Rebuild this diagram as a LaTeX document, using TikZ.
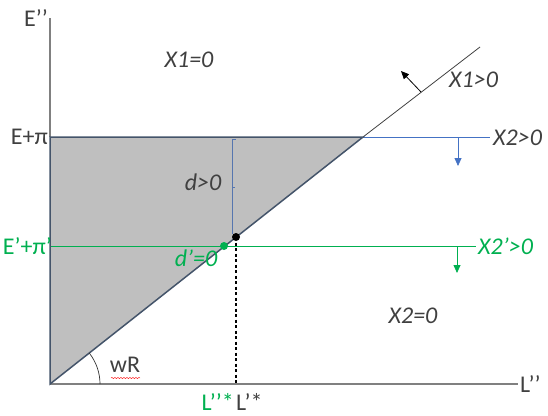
\documentclass[tikz,border=0pt]{standalone}
\usepackage{fontspec}
\setmainfont{Carlito}
\usetikzlibrary{arrows.meta,decorations.pathmorphing}
\definecolor{navy}{HTML}{44546A}
\definecolor{axisgray}{HTML}{808080}
\definecolor{fillgray}{HTML}{BFBFBF}
\definecolor{myblue}{HTML}{4472C4}
\definecolor{mygreen}{HTML}{00B050}
\definecolor{txt}{HTML}{404040}
\tikzset{
  lbl/.style={font=\fontsize{24}{26}\selectfont, text=txt, inner sep=0pt},
  ilbl/.style={lbl, font=\fontsize{24}{26}\selectfont\itshape},
  glbl/.style={lbl, text=mygreen},
  gilbl/.style={ilbl, text=mygreen},
  axisline/.style={axisgray, line width=1.2pt},
  edgeline/.style={navy, line width=1.5pt},
  tip/.style={-{Triangle[width=7pt,length=8pt]}}
}
\begin{document}
\begin{tikzpicture}[x=1pt,y=-1pt]
\useasboundingbox (0,0) rectangle (548,415);
% coordinates
\coordinate (O) at (50,384);
\coordinate (Ytop) at (50,18);
\coordinate (Xend) at (518,384);
\coordinate (E) at (50,137);
\coordinate (A) at (363,137);
\coordinate (Dend) at (480,47);
\coordinate (Bend) at (490,137);
\coordinate (G0) at (50,246);
\coordinate (Gend) at (476,246);
\coordinate (K) at (236,237);
\coordinate (Kb) at (236,384);
\coordinate (Gd) at (224,246);
\coordinate (M1) at (232,139);
\coordinate (M2) at (232,234);
\coordinate (Bt) at (458,137);
\coordinate (Bb) at (458,166);
\coordinate (Gt) at (457,246);
\coordinate (Gb) at (457,273);
\coordinate (N1) at (421,92);
\coordinate (N2) at (401,71);
% fill
\fill[fillgray] (O) -- (E) -- (A) -- cycle;
% axes
\draw[axisline] (Ytop) -- (E);
\draw[axisline] (O) -- (Xend);
% lines
\draw[myblue, line width=0.8pt] (A) -- (Bend);
\draw[black!75, line width=0.8pt] (A) -- (Dend);
\draw[mygreen, line width=1pt] (G0) -- (Gend);
\draw[edgeline] (O) -- (E) -- (A) -- cycle;
% measure line
\draw[myblue!70!gray, line width=0.7pt] (M1) -- (M2);
\draw[myblue!70!gray, line width=0.5pt] (232,187) -- (235,187);
\draw[myblue!70!gray, line width=0.5pt] (232,139) -- (236,139);
% dashed
\draw[black, line width=1.1pt, dash pattern=on 3pt off 2.5pt] (K) -- (Kb);
% arrows
\draw[myblue, line width=0.8pt, tip] (Bt) -- (Bb);
\draw[mygreen, line width=0.8pt, tip] (Gt) -- (Gb);
\draw[black, line width=0.8pt, tip] (N1) -- (N2);
% dots
\fill[black] (K) circle (4pt);
\fill[mygreen] (Gd) circle (4pt);
% angle arc
\draw[black!80, line width=0.7pt] (100,384) arc[start angle=0, end angle=-38.3, radius=50];
% labels
\node[lbl, anchor=east] (lE) at (48,18) {E’’};
\node[lbl, anchor=east] (lEpi) at (48,137) {E+π};
\node[glbl, anchor=east] (lEpi2) at (52,246) {E’+π’};
\node[ilbl] (lX10) at (189,60) {X1=0};
\node[ilbl, anchor=west] (lX1) at (449,80) {X1>0};
\node[ilbl, anchor=west] (lX2) at (493,138) {X2>0};
\node[gilbl, anchor=west] (lX2p) at (478,246) {X2’>0};
\node[ilbl] (ld) at (203,182) {d>0};
\node[gilbl] (ldp) at (196,258) {d’=0};
\node[ilbl] (lX20) at (413,316) {X2=0};
\node[lbl] (lwR) at (125,365) {wR};
\draw[red, line width=0.4pt, decorate, decoration={snake, amplitude=0.6pt, segment length=3pt}] (111,378) -- (140,378);
\node[lbl, anchor=west] (lL) at (520,384) {L’’};
\node[glbl, anchor=base east] (lLs2) at (234,410) {L’’*};
\node[lbl, anchor=base west] (lLs) at (236,410) {L’*};
\end{tikzpicture}
\end{document}
